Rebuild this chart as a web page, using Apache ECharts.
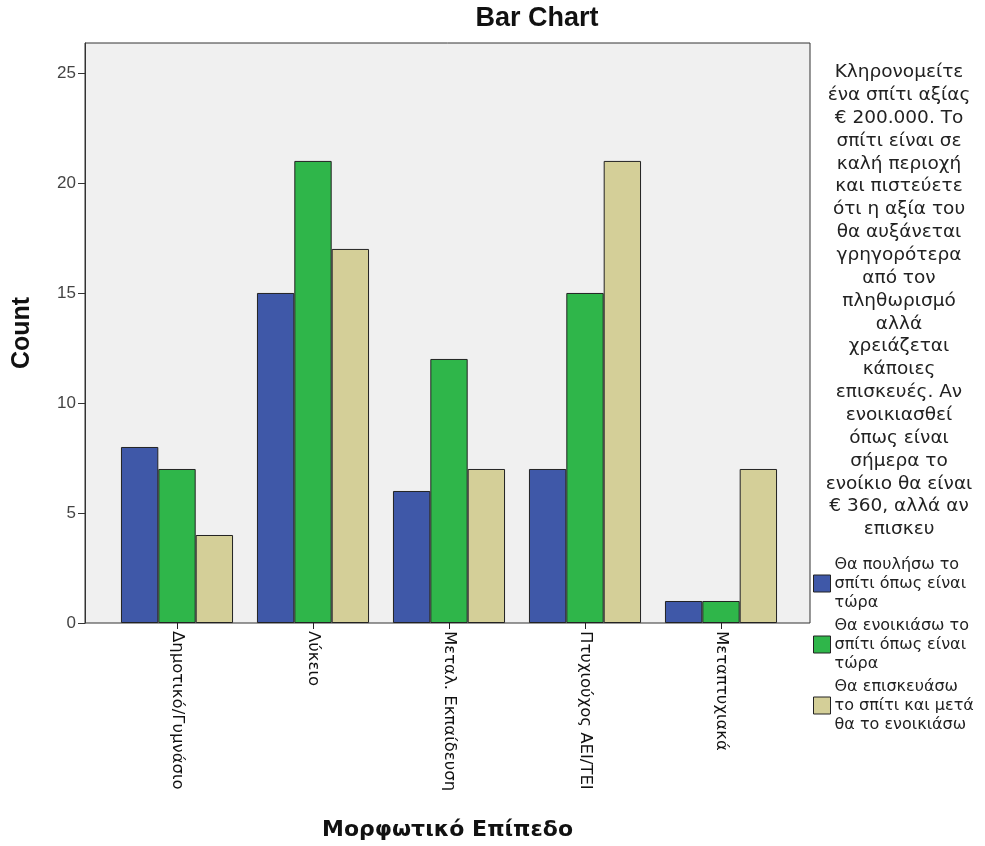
<!DOCTYPE html>
<html>
<head>
<meta charset="utf-8">
<script src="https://cdn.jsdelivr.net/npm/echarts@6/dist/echarts.min.js"></script>
<style>
  html, body { margin: 0; padding: 0; background: #fff; }
  #chart { width: 985px; height: 846px; }
</style>
</head>
<body>
<div id="chart"></div>
<script>
// data
var categories = ['Δημοτικό/Γυμνάσιο', 'Λύκειο', 'Μεταλ. Εκπαίδευση', 'Πτυχιούχος ΑΕΙ/ΤΕΙ', 'Μεταπτυχιακά'];
var seriesNames = ['Θα πουλήσω το\nσπίτι όπως είναι\nτώρα', 'Θα ενοικιάσω το\nσπίτι όπως είναι\nτώρα', 'Θα επισκευάσω\nτο σπίτι και μετά\nθα το ενοικιάσω'];
var sellValues = [8, 15, 6, 7, 1];
var rentValues = [7, 21, 12, 15, 1];
var repairValues = [4, 17, 7, 21, 7];
var yTicks = [0, 5, 10, 15, 20, 25];

var legendTitle = [
  'Κληρονομείτε', 'ένα σπίτι αξίας', '€ 200.000. Το', 'σπίτι είναι σε', 'καλή περιοχή',
  'και πιστεύετε', 'ότι η αξία του', 'θα αυξάνεται', 'γρηγορότερα', 'από τον',
  'πληθωρισμό', 'αλλά', 'χρειάζεται', 'κάποιες', 'επισκευές. Αν',
  'ενοικιασθεί', 'όπως είναι', 'σήμερα το', 'ενοίκιο θα είναι', '€ 360, αλλά αν', 'επισκευ'
].join('\n');

var colors = ['#3f58a8', '#2fb64a', '#d4cf98'];
var yMax = 26.36;
var font = 'Liberation Sans, Arial, sans-serif';
var wide = 'DejaVu Sans, sans-serif';

var chart = echarts.init(document.getElementById('chart'));

var option = {
  animation: false,
  backgroundColor: '#fff',
  textStyle: { fontFamily: font },
  title: [
    {
      text: 'Bar Chart',
      left: 537, top: 5, textAlign: 'center', padding: 0,
      textStyle: { fontSize: 27, fontWeight: 'bold', color: '#111', fontFamily: font }
    },
    {
      text: legendTitle,
      left: 899, top: 61, textAlign: 'center', padding: 0,
      textStyle: { fontSize: 18.5, fontWeight: 'normal', color: '#222', lineHeight: 22.85, fontFamily: wide }
    }
  ],
  legend: {
    orient: 'vertical',
    left: 813, top: 555, padding: 0,
    itemWidth: 17, itemHeight: 17,
    itemGap: 4,
    icon: 'rect',
    data: seriesNames,
    textStyle: { fontSize: 16, lineHeight: 19, color: '#222', fontFamily: wide, padding: [0, 0, 0, -1] },
    itemStyle: { borderColor: '#222', borderWidth: 1 }
  },
  grid: [
    // frame and background of the plot
    { left: 85, right: 175, top: 43, bottom: 223, show: true, backgroundColor: '#f0f0f0', borderColor: '#333', borderWidth: 1 },
    // inner band where the categories sit
    { left: 109, right: 196, top: 43, bottom: 223 }
  ],
  xAxis: [
    {
      gridIndex: 0, type: 'value', min: 0, max: 1,
      axisLine: { show: false }, axisTick: { show: false }, axisLabel: { show: false }, splitLine: { show: false },
      name: 'Μορφωτικό Επίπεδο', nameLocation: 'middle', nameGap: 196,
      nameTextStyle: { fontSize: 22, fontWeight: 'bold', color: '#111', fontFamily: wide }
    },
    {
      gridIndex: 1, type: 'category', data: categories,
      axisLine: { show: false },
      axisTick: { show: true, alignWithLabel: true, length: 6, lineStyle: { color: '#222' } },
      axisLabel: { rotate: -90, interval: 0, margin: 8, fontSize: 16.5, color: '#111', fontFamily: wide }
    }
  ],
  yAxis: [
    {
      gridIndex: 0, type: 'value', min: 0, max: yMax, interval: 5,
      axisLine: { show: true, lineStyle: { color: '#333' } },
      axisTick: { show: true, length: 7, lineStyle: { color: '#333' } },
      axisLabel: {
        fontSize: 17, color: '#444', margin: 9, showMaxLabel: false,
        formatter: function (v) { return yTicks.indexOf(v) >= 0 ? String(v) : ''; }
      },
      splitLine: { show: false },
      name: 'Count', nameLocation: 'middle', nameGap: 50, nameRotate: 90,
      nameTextStyle: { fontSize: 25, fontWeight: 'bold', color: '#111', fontFamily: font }
    },
    {
      gridIndex: 1, type: 'value', min: 0, max: yMax, interval: 5, show: false
    }
  ],
  series: [
    { name: seriesNames[0], data: sellValues },
    { name: seriesNames[1], data: rentValues },
    { name: seriesNames[2], data: repairValues }
  ].map(function (s, i) {
    return {
      name: s.name,
      type: 'bar',
      xAxisIndex: 1, yAxisIndex: 1,
      data: s.data,
      barGap: '0%',
      barCategoryGap: '17.6%',
      itemStyle: { color: colors[i], borderColor: '#222', borderWidth: 1 }
    };
  })
};

chart.setOption(option);
</script>
</body>
</html>
